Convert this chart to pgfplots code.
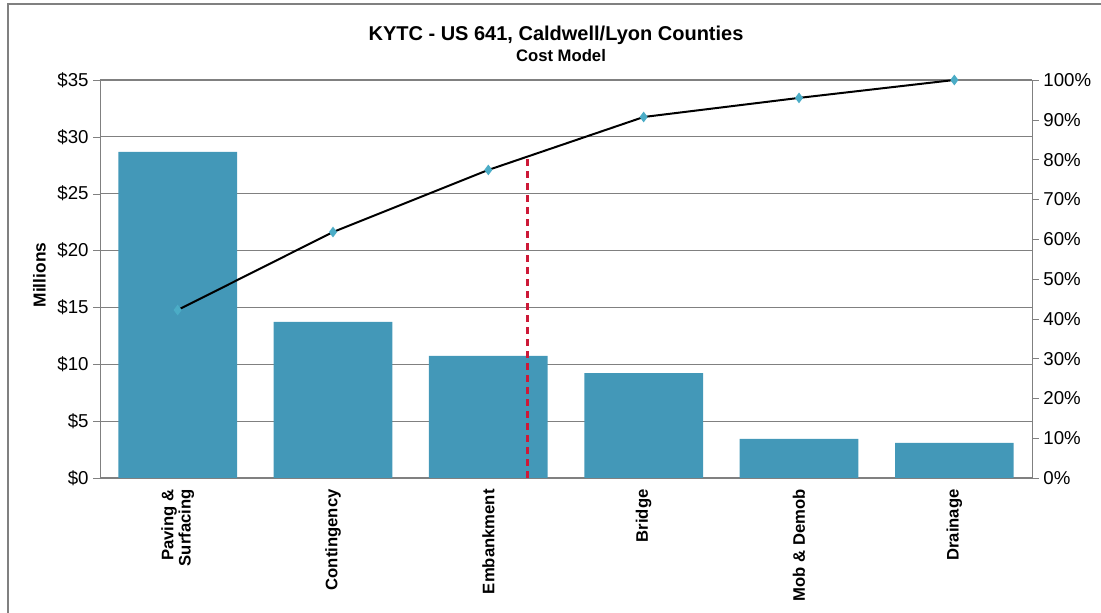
\documentclass[border=0pt]{standalone}
\usepackage{fontspec}
\setmainfont{Liberation Sans}
\usepackage{pgfplots}
\pgfplotsset{compat=1.18}
\definecolor{barblue}{RGB}{67,152,184}
\definecolor{mkblue}{RGB}{75,172,198}
\definecolor{cutred}{RGB}{205,25,55}
\definecolor{axgray}{RGB}{128,128,128}
\pgfplotsset{
  base/.style={
    scale only axis, width=699pt, height=298.5pt,
    at={(75pt,101.25pt)}, anchor=south west,
    xmin=-0.5, xmax=5.5,
    /pgf/number format/assume math mode=true,
    tick label style={font=\fontsize{14}{16}\selectfont},
    axis line style={axgray,-},
    tick align=outside, major tick length=5pt,
  }
}
\begin{document}
\begin{tikzpicture}
\useasboundingbox (0pt,0pt) rectangle (825.75pt,459.75pt);
\draw[axgray, line width=1.5pt] (6pt,-20pt) -- (6pt,456.75pt) -- (850pt,456.75pt);

\node[font=\bfseries\fontsize{15}{17}\selectfont] at (417pt,433.5pt) {KYTC - US 641, Caldwell/Lyon Counties};
\node[font=\bfseries\fontsize{12.5}{14}\selectfont] at (420.75pt,417.75pt) {Cost Model};

% cost by item, $ millions
\begin{axis}[base,
  ymin=0, ymax=35, ytick={0,5,...,35},
  yticklabel={\$\pgfmathprintnumber{\tick}},
  axis y line*=left, axis x line*=bottom,
  ymajorgrids, grid style={axgray, line width=0.8pt},
  xtick={0,...,5},
  xticklabels={{Paving \&\\Surfacing},Contingency,Embankment,Bridge,Mob \& Demob,Drainage},
  xtick style={draw=none},
  ytick style={axgray},
  xticklabel style={rotate=90, anchor=east, align=right,
    font=\bfseries\fontsize{12.5}{13}\selectfont},
  ylabel={Millions},
  ylabel style={at={(axis description cs:-0.065,0.51)}, anchor=center,
    font=\bfseries\fontsize{13}{15}\selectfont},
]
\addplot[ybar, bar width=89pt, fill=barblue, draw=none] coordinates {
  (0,28.67) (1,13.72) (2,10.73) (3,9.23) (4,3.43) (5,3.08)
};
\end{axis}

% cumulative share
\begin{axis}[base,
  ymin=0, ymax=100, ytick={0,10,...,100},
  yticklabel={\pgfmathprintnumber{\tick}\%},
  axis y line*=right, axis x line=none,
  ytick style={axgray},
  clip=false,
]
\addplot[cutred, line width=2pt, dash pattern=on 5.5pt off 3.5pt] coordinates {
  (2.25,0) (2.25,80.5)
};
\addplot[black, line width=1.5pt, mark=diamond*, mark size=2.8pt,
  mark options={fill=mkblue, draw=mkblue}] coordinates {
  (0,42.2) (1,61.8) (2,77.4) (3,90.7) (4,95.5) (5,100)
};
\end{axis}
\end{tikzpicture}
\end{document}
